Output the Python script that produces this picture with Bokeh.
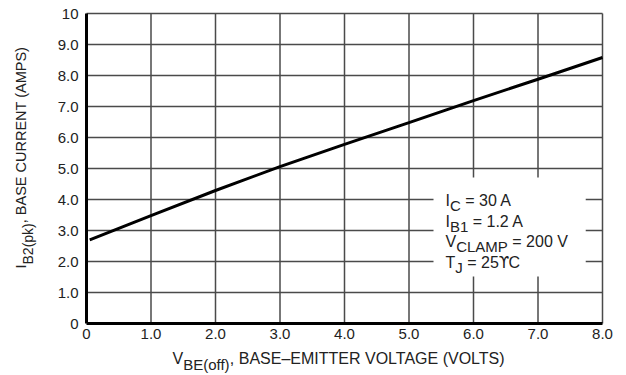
import numpy as np
from bokeh.plotting import figure
from bokeh.models import Range1d, FixedTicker, Label
from bokeh.embed import file_html
from bokeh.resources import INLINE

# ---- data ----
vbe = [0.05, 1.0, 2.0, 3.0, 4.0, 5.0, 6.0, 7.0, 8.0]
ib2 = [2.7, 3.48, 4.29, 5.06, 5.78, 6.48, 7.19, 7.88, 8.58]
x_ticks = [0, 1, 2, 3, 4, 5, 6, 7, 8]
x_tick_labels = ["0", "1.0", "2.0", "3.0", "4.0", "5.0", "6.0", "7.0", "8.0"]
y_ticks = [0, 1, 2, 3, 4, 5, 6, 7, 8, 9, 10]
y_tick_labels = ["0", "1.0", "2.0", "3.0", "4.0", "5.0", "6.0", "7.0", "8.0", "9.0", "10"]
notes = [("I", "C", "\u00a0= 30 A"), ("I", "B1", "\u00a0= 1.2 A"),
         ("V", "CLAMP", "\u00a0= 200 V"), ("T", "J", "\u00a0= 25ϒC")]
xlabel = ("V", "BE(off)", ",\u00a0BASE\u2013EMITTER VOLTAGE (VOLTS)")
ylabel = ("I", "B2(pk)", ",\u00a0BASE CURRENT (AMPS)")
note_box = dict(left=5.38, right=7.74, bottom=1.52, top=4.71)

FONT = "Liberation Sans"
SYM_FONT = "DejaVu Sans"
TXT = "#222222"
GRID = "#4a4a4a"

# Arial/Liberation Sans advance widths (per 1000 em)
CW = {"I": 278, "B": 667, "E": 667, "2": 556, "1": 556, "(": 333, ")": 333,
      "p": 556, "k": 500, "o": 556, "f": 278, "C": 722, "L": 556, "A": 667,
      "M": 833, "P": 667, "J": 500, "T": 611, "V": 667, " ": 278, ",": 278,
      "\u00a0": 278, "=": 584, "5": 556, "0": 556, "3": 556, ".": 278,
      "ϒ": 650}


def tw(s, size):
    return sum(CW.get(c, 600) for c in s) * size / 1000.0


# canvas layout: data area at px x 86..602, y 13..323 of a 626x375 canvas
W, H = 626, 375
L, R, T, B = 86, 602, 13, 323
xmin, xmax = x_ticks[0], x_ticks[-1]
ymin, ymax = y_ticks[0], y_ticks[-1]
sx = (R - L) / (xmax - xmin)
sy = (B - T) / (ymax - ymin)
x_range = Range1d(xmin - L / sx, xmax + (W - R) / sx)
y_range = Range1d(ymin - (H - B) / sy, ymax + T / sy)

p = figure(width=W, height=H, output_backend="svg", toolbar_location=None,
           x_range=x_range, y_range=y_range,
           min_border=0, min_border_left=0, min_border_right=0,
           min_border_top=0, min_border_bottom=0)
p.background_fill_color = "white"
p.border_fill_color = "white"
p.outline_line_color = None
p.grid.visible = False

# grid lines (including the top and right borders)
gx = x_ticks[1:]
gy = y_ticks[1:]
p.segment(x0=gx, y0=[ymin] * len(gx), x1=gx, y1=[ymax] * len(gx),
          line_color=GRID, line_width=1.5)
p.segment(x0=[xmin] * len(gy), y0=gy, x1=[xmax] * len(gy), y1=gy,
          line_color=GRID, line_width=1.5)

# white box behind the conditions
p.quad(left=[note_box["left"]], right=[note_box["right"]],
       bottom=[note_box["bottom"]], top=[note_box["top"]],
       fill_color="white", line_color=None)

# curve
p.line(vbe, ib2, line_color="black", line_width=3)

for ax, ticks, labels, bnds in ((p.xaxis[0], x_ticks, x_tick_labels, (xmin, xmax)),
                                (p.yaxis[0], y_ticks, y_tick_labels, (ymin, ymax))):
    ax.fixed_location = 0
    ax.bounds = bnds
    ax.ticker = FixedTicker(ticks=ticks)
    ax.major_label_overrides = {t: l for t, l in zip(ticks, labels)}
    ax.axis_line_width = 3
    ax.axis_line_color = "black"
    ax.major_tick_in = 0
    ax.major_tick_out = 0
    ax.minor_tick_line_color = None
    ax.major_label_text_font = FONT
    ax.major_label_text_font_size = "15px"
    ax.major_label_text_color = TXT
p.xaxis.major_label_standoff = 5
p.yaxis.major_label_standoff = 8


def add_text(text, xo, yo, size, angle=0.0, font=FONT):
    p.add_layout(Label(x=0, y=0, x_units="data", y_units="data",
                       x_offset=xo, y_offset=yo, text=text, angle=angle,
                       text_font=font, text_font_size=f"{size}px",
                       text_color=TXT, text_align="left",
                       text_baseline="alphabetic"))


def add_run(text, xo, yo, size):
    """Plain text run; the odd degree glyph is drawn in a symbol font."""
    parts = text.split("ϒ")
    x = xo
    for k, part in enumerate(parts):
        if k > 0:
            add_text("ϒ", x, yo, size - 1, font=SYM_FONT)
            x += tw("ϒ", size - 1)
        if part:
            add_text(part, x, yo, size)
            x += tw(part, size)


# conditions text
main_sz, sub_sz = 16, 15
x0 = 359
for i, (a, b, c) in enumerate(notes):
    y0 = 123 - i * 20.7
    add_text(a, x0, y0, main_sz)
    add_text(b, x0 + tw(a, main_sz), y0 - 5, sub_sz)
    add_run(c, x0 + tw(a, main_sz) + tw(b, sub_sz), y0, main_sz)

# x axis label
a, b, c = xlabel
xs, ys = 86, -35
add_text(a, xs, ys, 16)
add_text(b, xs + tw(a, 16), ys - 6, 15)
add_text(c, xs + tw(a, 16) + tw(b, 15), ys, 16)

# y axis label (rotated)
a, b, c = ylabel
xs, ys = -66, 55
add_text(a, xs, ys, 14.5, np.pi / 2)
add_text(b, xs + 7, ys + tw(a, 14.5), 14, np.pi / 2)
add_text(c, xs, ys + tw(a, 14.5) + tw(b, 14), 14.5, np.pi / 2)

open("out.html", "w").write(file_html(p, INLINE))
